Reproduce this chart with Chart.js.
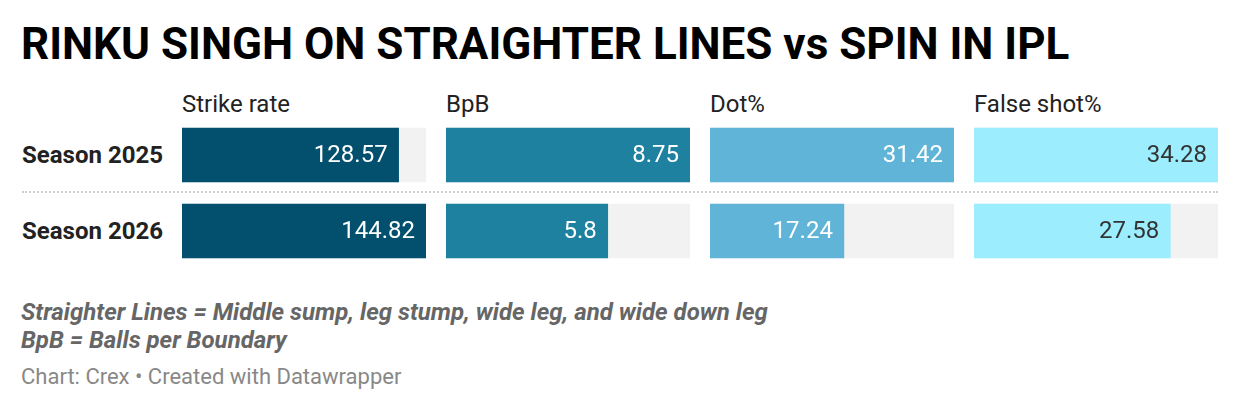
<!DOCTYPE html>
<html>
<head>
<meta charset="utf-8">
<script src="https://cdn.jsdelivr.net/npm/chart.js@4.4.1/dist/chart.umd.min.js"></script>
<style>
  html, body { margin: 0; padding: 0; background: #fff; }
  body { width: 1240px; height: 410px; position: relative; overflow: hidden; font-family: Roboto, "Noto Sans", sans-serif; }
  .abs { position: absolute; white-space: nowrap; }
  #title { left: 21px; top: 18px; font-size: 44px; font-weight: 700; color: #000; line-height: 52px; }
  .hdr { top: 90px; font-size: 24px; color: #222; line-height: 28px; }
  .row { left: 22px; font-size: 24px; font-weight: 700; color: #222; line-height: 28px; }
  #sep { left: 22px; top: 191px; width: 1196px; height: 0; border-top: 2px dotted #cfcfcf; }
  .note { left: 21px; font-size: 24px; font-style: italic; font-weight: 700; color: #666; line-height: 28px; }
  #src { left: 21px; top: 364px; font-size: 22px; color: #888; line-height: 26px; }
  .cw { position: absolute; top: 117px; width: 244px; height: 152px; }
</style>
</head>
<body>
<div id="title" class="abs">RINKU SINGH ON STRAIGHTER LINES vs SPIN IN IPL</div>
<div id="sep" class="abs"></div>
<div id="rows"></div>
<div id="hdrs"></div>
<div id="charts"></div>
<div class="abs note" style="top:298px">Straighter Lines = Middle sump, leg stump, wide leg, and wide down leg</div>
<div class="abs note" style="top:326px">BpB = Balls per Boundary</div>
<div id="src" class="abs">Chart: Crex • Created with Datawrapper</div>
<script>
const categories = ["Season 2025", "Season 2026"];
const metrics = ["Strike rate", "BpB", "Dot%", "False shot%"];
const strikeRate = [128.57, 144.82];
const bpb = [8.75, 5.8];
const dotPct = [31.42, 17.24];
const falseShotPct = [34.28, 27.58];
const seriesValues = [strikeRate, bpb, dotPct, falseShotPct];
const valueLabels = [["128.57", "144.82"], ["8.75", "5.8"], ["31.42", "17.24"], ["34.28", "27.58"]];
const barColors = ["#02506e", "#1e81a0", "#60b4d8", "#9ceefe"];
const labelColors = ["#ffffff", "#ffffff", "#ffffff", "#333333"];

const colLefts = [182, 446, 710, 974];

// row labels
const rowTops = [141, 217];
categories.forEach((c, i) => {
  const d = document.createElement('div');
  d.className = 'abs row';
  d.style.top = rowTops[i] + 'px';
  d.textContent = c;
  document.getElementById('rows').appendChild(d);
});

const valuePlugin = {
  id: 'valueLabels',
  afterDatasetsDraw(chart) {
    const ctx = chart.ctx;
    const meta = chart.getDatasetMeta(1);
    const o = chart.options.plugins.valueLabels;
    ctx.save();
    ctx.font = '400 24px Roboto, "Noto Sans", sans-serif';
    ctx.fillStyle = o.color;
    ctx.textAlign = 'right';
    ctx.textBaseline = 'middle';
    meta.data.forEach((bar, i) => {
      ctx.fillText(o.labels[i], bar.x - 11, bar.y + 1);
    });
    ctx.restore();
  }
};

metrics.forEach((m, k) => {
  const h = document.createElement('div');
  h.className = 'abs hdr';
  h.style.left = colLefts[k] + 'px';
  h.textContent = m;
  document.getElementById('hdrs').appendChild(h);

  const wrap = document.createElement('div');
  wrap.className = 'cw';
  wrap.style.left = colLefts[k] + 'px';
  const cv = document.createElement('canvas');
  wrap.appendChild(cv);
  document.getElementById('charts').appendChild(wrap);

  const vals = seriesValues[k];
  const mx = Math.max(...vals);
  new Chart(cv, {
    type: 'bar',
    data: {
      labels: categories,
      datasets: [
        { data: vals.map(() => mx), backgroundColor: '#f2f2f2', grouped: false, barThickness: 54, order: 2 },
        { data: vals, backgroundColor: barColors[k], grouped: false, barThickness: 54, order: 1 }
      ]
    },
    options: {
      indexAxis: 'y',
      responsive: true,
      maintainAspectRatio: false,
      animation: false,
      layout: { padding: 0 },
      scales: {
        x: { display: false, min: 0, max: mx },
        y: { display: false }
      },
      plugins: {
        legend: { display: false },
        tooltip: { enabled: false },
        valueLabels: { labels: valueLabels[k], color: labelColors[k] }
      }
    },
    plugins: [valuePlugin]
  });
});
</script>
</body>
</html>
